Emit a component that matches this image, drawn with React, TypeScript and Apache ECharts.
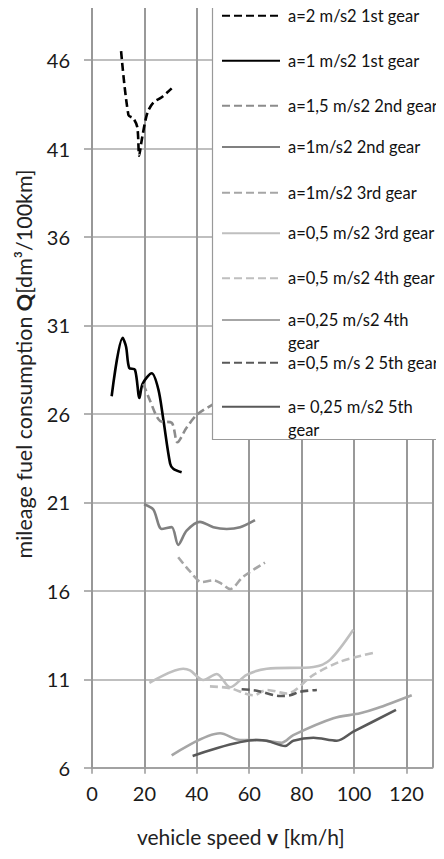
import React, { useEffect, useRef } from "react";
import * as echarts from "echarts";

// ---- data (vehicle speed km/h, fuel consumption dm3/100km) ----
const seriesNames = [
  "a=2 m/s2 1st gear",
  "a=1 m/s2 1st gear",
  "a=1,5 m/s2 2nd gear",
  "a=1m/s2 2nd gear",
  "a=1m/s2 3rd gear",
  "a=0,5 m/s2 3rd gear",
  "a=0,5 m/s2 4th gear",
  "a=0,25 m/s2 4th gear",
  "a=0,5 m/s 2 5th gear",
  "a= 0,25 m/s2 5th gear",
];

const a2Gear1: [number, number][] = [
  [11.1, 46.5], [13.9, 42.9], [15.8, 42.7], [17.3, 42.2], [18.0, 40.6],
  [19.0, 41.5], [21.1, 43.0], [23.4, 43.6], [26.6, 43.9], [30.4, 44.4],
];
const a1Gear1: [number, number][] = [
  [7.5, 27.0], [11.7, 30.3], [13.0, 29.8], [14.2, 28.6], [16.4, 28.5],
  [18.1, 26.9], [19.3, 27.7], [22.8, 28.3], [25.3, 27.4], [27.2, 25.7],
  [29.8, 23.2], [31.0, 22.9], [34.2, 22.7],
];
const a15Gear2: [number, number][] = [
  [19.6, 27.7], [22.0, 26.8], [26.0, 25.6], [30.4, 25.5], [32.6, 24.4],
  [36.0, 25.2], [40.0, 25.95], [45.7, 26.5], [50.0, 26.8],
];
const a1Gear2: [number, number][] = [
  [19.85, 20.9], [23.4, 20.6], [26.6, 19.5], [30.4, 19.6], [32.9, 18.6],
  [36.1, 19.4], [41.2, 19.9], [46.3, 19.6], [51.4, 19.5], [56.5, 19.6], [62.2, 20.0],
];
const a1Gear3: [number, number][] = [
  [32.9, 17.9], [37.4, 17.1], [41.9, 16.5], [46.3, 16.6], [49.5, 16.4],
  [52.7, 16.1], [57.7, 16.8], [66.0, 17.6],
];
const a05Gear3: [number, number][] = [
  [21.9, 10.8], [34.8, 11.6], [37.4, 11.5], [42.5, 10.96], [47.6, 11.3],
  [52.7, 10.55], [59.0, 11.25], [66.7, 11.6], [84.5, 11.7], [90.8, 12.1], [99.7, 13.8],
];
const a05Gear4: [number, number][] = [
  [45.0, 10.6], [52.7, 10.5], [61.6, 10.1], [66.7, 10.4], [74.3, 10.2],
  [84.5, 11.25], [94.7, 12.0], [107.4, 12.5],
];
const a025Gear4: [number, number][] = [
  [30.4, 6.7], [48.9, 7.95], [56.5, 7.57], [62.9, 7.57], [72.4, 7.42],
  [76.8, 7.85], [92.1, 8.8], [102.3, 9.08], [108.7, 9.36], [122.0, 10.1],
];
const a05Gear5: [number, number][] = [
  [57.1, 10.44], [62.9, 10.36], [71.8, 10.06], [75.6, 10.1], [79.4, 10.3], [85.8, 10.4],
];
const a025Gear5: [number, number][] = [
  [38.4, 6.67], [62.9, 7.57], [66.7, 7.53], [73.7, 7.23], [76.8, 7.53],
  [84.5, 7.7], [93.4, 7.53], [99.7, 8.04], [116.0, 9.27],
];

const seriesData = [
  a2Gear1, a1Gear1, a15Gear2, a1Gear2, a1Gear3,
  a05Gear3, a05Gear4, a025Gear4, a05Gear5, a025Gear5,
];

// ---- styles ----
const seriesColors = [
  "#000000", "#000000", "#8c8c8c", "#808080", "#a6a6a6",
  "#bfbfbf", "#bfbfbf", "#a6a6a6", "#595959", "#595959",
];
const seriesDashed = [true, false, true, false, true, false, true, false, true, false];
const legendIconY = [15.7, 60.7, 105.7, 147, 192.7, 233.3, 278.3, 320, 362.7, 406.7];
const wrapped = [false, false, false, false, false, false, false, true, false, true];

const FONT = "Lato, 'Open Sans', sans-serif";

export default function App() {
  const ref = useRef<HTMLDivElement>(null);

  useEffect(() => {
    if (!ref.current) return;
    const chart = echarts.init(ref.current, undefined, { renderer: "svg" });

    const series = seriesNames.map((name, i) => ({
      name,
      type: "line",
      data: seriesData[i],
      smooth: 0.3,
      symbol: "none",
      lineStyle: {
        color: seriesColors[i],
        width: 2.6,
        type: seriesDashed[i] ? [8, 4] : "solid",
      },
      itemStyle: { color: seriesColors[i] },
      z: 2,
    }));

    const legends = seriesNames.map((name, i) => {
      const isWrapped = wrapped[i];
      return {
        data: [name],
        orient: "vertical",
        left: 221,
        top: isWrapped ? legendIconY[i] - 34.5 : legendIconY[i] - 10,
        padding: 0,
        itemWidth: 58,
        itemHeight: 14,
        z: 5,
        itemStyle: { color: "rgba(0,0,0,0)", borderColor: "rgba(0,0,0,0)", borderWidth: 0 },
        formatter: (n: string) =>
          isWrapped ? " \n" + n.replace(/ gear$/, "\ngear") : n,
        textStyle: {
          fontFamily: FONT,
          fontSize: 16.5,
          color: "#111",
          lineHeight: isWrapped ? 23 : 20,
          padding: [0, 0, 0, 3],
        },
      };
    });

    chart.setOption({
      animation: false,
      backgroundColor: "#fff",
      grid: { left: 92, right: 11.3, top: 7, bottom: 91.2, containLabel: false },
      xAxis: {
        type: "value",
        min: 0,
        max: 130,
        interval: 20,
        name: "vehicle speed {b|v} [km/h]",
        nameLocation: "middle",
        nameGap: 58,
        nameTextStyle: {
          fontFamily: FONT,
          fontSize: 21,
          color: "#222",
          padding: [0, 43, 0, 0],
          rich: { b: { fontFamily: FONT, fontSize: 21, fontWeight: "bold", color: "#222" } },
        },
        axisLine: { show: true, lineStyle: { color: "#999", width: 1.5 } },
        axisTick: { show: true, length: 6, lineStyle: { color: "#999", width: 1.5 } },
        axisLabel: {
          fontFamily: FONT,
          fontSize: 20,
          color: "#1a1a1a",
          margin: 15,
          showMaxLabel: false,
        },
        splitLine: { show: true, lineStyle: { color: "#999", width: 2 } },
      },
      yAxis: {
        type: "value",
        min: 6,
        max: 49,
        interval: 5,
        name: "mileage fuel consumption {b|Q}[dm³/100km]",
        nameLocation: "middle",
        nameRotate: 90,
        nameGap: 57,
        nameTextStyle: {
          fontFamily: FONT,
          fontSize: 21.5,
          color: "#222",
          padding: [0, 0, 0, 47],
          rich: { b: { fontFamily: FONT, fontSize: 21.5, fontWeight: "bold", color: "#222" } },
        },
        axisLine: { show: true, lineStyle: { color: "#999", width: 1.5 } },
        axisTick: { show: true, length: 8, lineStyle: { color: "#999", width: 1.5 } },
        axisLabel: {
          fontFamily: FONT,
          fontSize: 20,
          color: "#1a1a1a",
          margin: 22,
          showMaxLabel: false,
        },
        splitLine: { show: true, showMaxLine: false, lineStyle: { color: "#aaa", width: 1.5 } },
      },
      legend: legends,
      graphic: {
        elements: [
          {
            type: "rect",
            z: 3,
            shape: { x: 212.5, y: -2, width: 250, height: 441.5 },
            style: { fill: "#fff", stroke: "#999", lineWidth: 1.2 },
          },
        ],
      },
      series,
    });

    return () => chart.dispose();
  }, []);

  return <div ref={ref} style={{ width: 444, height: 859, margin: -8 }} />;
}
